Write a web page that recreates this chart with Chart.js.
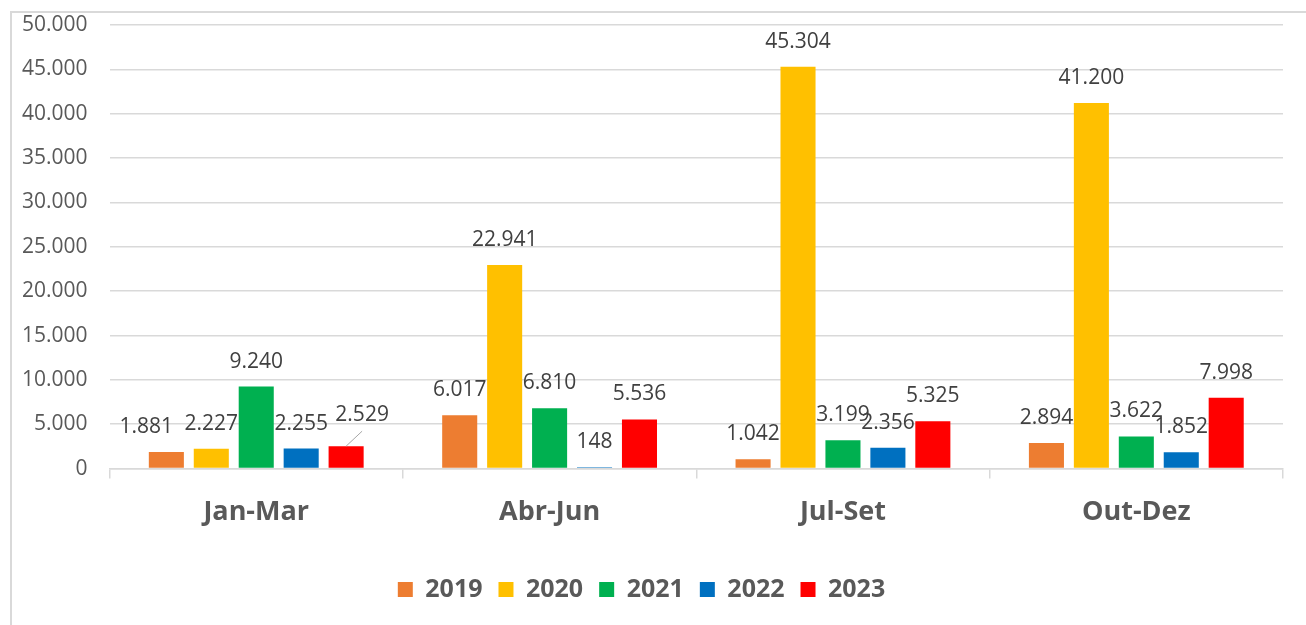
<!DOCTYPE html>
<html>
<head>
<meta charset="utf-8">
<script src="https://cdn.jsdelivr.net/npm/chart.js@4"></script>
<style>
  html, body { margin: 0; padding: 0; background: #fff; }
  #frame { position: absolute; left: 10px; top: 11px; width: 1300px; height: 620px; border: 2px solid #d9d9d9; box-sizing: border-box; }
  #wrap { position: absolute; left: 0; top: 0; width: 1306px; height: 625px; }
</style>
</head>
<body>
<div id="frame"></div>
<div id="wrap"><canvas id="quarterChart"></canvas></div>
<script>
// dados por trimestre
const quarters = ['Jan-Mar', 'Abr-Jun', 'Jul-Set', 'Out-Dez'];
const years = ['2019', '2020', '2021', '2022', '2023'];
const values2019 = [1881, 6017, 1042, 2894];
const values2020 = [2227, 22941, 45304, 41200];
const values2021 = [9240, 6810, 3199, 3622];
const values2022 = [2255, 148, 2356, 1852];
const values2023 = [2529, 5536, 5325, 7998];
const yTicks = [0, 5000, 10000, 15000, 20000, 25000, 30000, 35000, 40000, 45000, 50000];

const seriesValues = [values2019, values2020, values2021, values2022, values2023];
const seriesColors = ['#ED7D31', '#FFC000', '#00B050', '#0070C0', '#FF0000'];

const fmt = v => String(v).replace(/\B(?=(\d{3})+(?!\d))/g, '.');
const baseFont = '"Open Sans", "Noto Sans", sans-serif';

// rótulos de dados acima das barras (como no Excel)
const barLabels = {
    id: 'barLabels',
    afterDatasetsDraw(chart) {
        const ctx = chart.ctx;
        // pequenos deslocamentos onde o Excel empurrou o rótulo
        const nudge = { '0-0': [-20, 0], '4-0': [16, -6] };
        ctx.save();
        ctx.font = '21px ' + baseFont;
        ctx.fillStyle = '#404040';
        ctx.textAlign = 'center';
        ctx.textBaseline = 'middle';
        chart.data.datasets.forEach((ds, di) => {
            const meta = chart.getDatasetMeta(di);
            meta.data.forEach((bar, i) => {
                const n = nudge[di + '-' + i] || [0, 0];
                const x = bar.x + n[0];
                const y = bar.y - 25 + n[1];
                if (di === 4 && i === 0) {
                    ctx.strokeStyle = '#a6a6a6';
                    ctx.lineWidth = 1;
                    ctx.beginPath();
                    ctx.moveTo(x, y + 16);
                    ctx.lineTo(bar.x, bar.y);
                    ctx.stroke();
                }
                ctx.fillText(fmt(ds.data[i]), x, y);
            });
        });
        ctx.restore();
    }
};

new Chart(document.getElementById('quarterChart'), {
    type: 'bar',
    data: {
        labels: quarters,
        datasets: years.map((y, k) => ({
            label: y,
            data: seriesValues[k],
            backgroundColor: seriesColors[k],
            borderWidth: 0,
            categoryPercentage: 0.766,
            barPercentage: 0.78
        }))
    },
    options: {
        responsive: true,
        maintainAspectRatio: false,
        animation: false,
        layout: { padding: { left: 0, right: 23, top: 25, bottom: 13 } },
        plugins: {
            tooltip: { enabled: false },
            legend: {
                position: 'bottom',
                labels: {
                    color: '#595959',
                    font: { family: baseFont, size: 25, weight: 'bold' },
                    boxWidth: 15,
                    boxHeight: 15,
                    padding: 16
                }
            }
        },
        scales: {
            x: {
                grid: { offset: true, drawOnChartArea: false, drawTicks: true, tickLength: 10, color: '#d9d9d9', lineWidth: 1.5 },
                border: { color: '#d9d9d9', width: 1.5 },
                ticks: { color: '#595959', font: { family: baseFont, size: 27, weight: 'bold' }, padding: 18 },
                afterFit: axis => { axis.height += 14; }
            },
            y: {
                min: 0,
                max: 50000,
                afterBuildTicks: axis => { axis.ticks = yTicks.map(v => ({ value: v })); },
                afterFit: axis => { axis.paddingTop = 0; },
                grid: { color: '#d9d9d9', lineWidth: 1.5, drawTicks: false },
                border: { display: false },
                ticks: { color: '#595959', font: { family: baseFont, size: 21 }, padding: 22, callback: v => fmt(v) }
            }
        }
    },
    plugins: [barLabels]
});
</script>
</body>
</html>
